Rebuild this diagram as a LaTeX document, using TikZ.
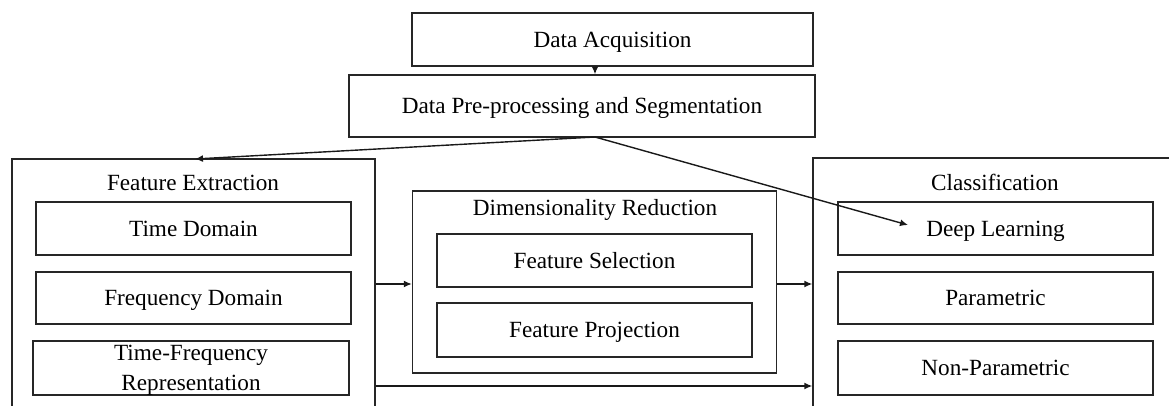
\documentclass[tikz,border=0pt]{standalone}
\usepackage{fontspec}
\setmainfont{Liberation Serif}
\usetikzlibrary{arrows.meta}
\begin{document}
\begin{tikzpicture}[x=1pt,y=-1pt,
  every node/.style={font=\fontsize{23.2}{30}\selectfont},
  box/.style={draw=black!85, line width=1.4pt, rectangle, inner sep=0pt,
    text height=15pt, text depth=0pt},
  lbl/.style={inner sep=0pt, align=center},
  arr/.style={draw=black!90, line width=1.4pt, -{Latex[length=8pt,width=7pt]}}]
\useasboundingbox (0,0) rectangle (1169,405);
\clip (0,0) rectangle (1169,405);

% top of the pipeline
\node[box, minimum width=401pt, minimum height=53pt] (acq) at (612.5,39.5) {Data Acquisition};
\node[box, minimum width=466pt, minimum height=62pt] (pre) at (582,106) {Data Pre-processing and Segmentation};

% feature extraction group
\node[box, minimum width=363pt, minimum height=271pt] (fe) at (193.5,294.5) {};
\node[lbl] (fetitle) at (193,183) {Feature Extraction};
\node[box, minimum width=315pt, minimum height=53pt] (td) at (193.5,228.5) {Time Domain};
\node[box, minimum width=315pt, minimum height=52pt] (fd) at (193.5,298) {Frequency Domain};
\node[box, minimum width=316pt, minimum height=54pt] (tf) at (191,368) {};
\node[lbl] (tftext) at (191,370) {Time-Frequency\\Representation};

% dimensionality reduction group
\node[box, minimum width=364pt, minimum height=182pt] (dr) at (594.5,282) {};
\node[lbl] (drtitle) at (595,210) {Dimensionality Reduction};
\node[box, minimum width=315pt, minimum height=53pt] (fs) at (594.5,260.5) {Feature Selection};
\node[box, minimum width=315pt, minimum height=54pt] (fp) at (594.5,330) {Feature Projection};

% classification group
\node[box, minimum width=387pt, minimum height=272pt] (cl) at (1006.5,294) {};
\node[lbl] (cltitle) at (995,182) {Classification};
\node[box, minimum width=315pt, minimum height=53pt] (dl) at (995.5,228.5) {Deep Learning};
\node[box, minimum width=315pt, minimum height=52pt] (pa) at (995.5,298) {Parametric};
\node[box, minimum width=315pt, minimum height=54pt] (np) at (995.5,368) {Non-Parametric};

% connector anchors
\coordinate (split) at (595,137);
\coordinate (fein) at (195,159);
\coordinate (dlin) at (908,225);
\coordinate (mid) at (0,284);
\coordinate (low) at (0,386);

% connectors
\draw[arr] (acq.south -| split) -- (pre.north -| split);
\draw[arr] (split) -- (fein);
\draw[arr] (split) -- (dlin);
\draw[arr] (fe.east |- mid) -- (dr.west |- mid);
\draw[arr] (dr.east |- mid) -- (cl.west |- mid);
\draw[arr] (fe.east |- low) -- (cl.west |- low);
\end{tikzpicture}
\end{document}
